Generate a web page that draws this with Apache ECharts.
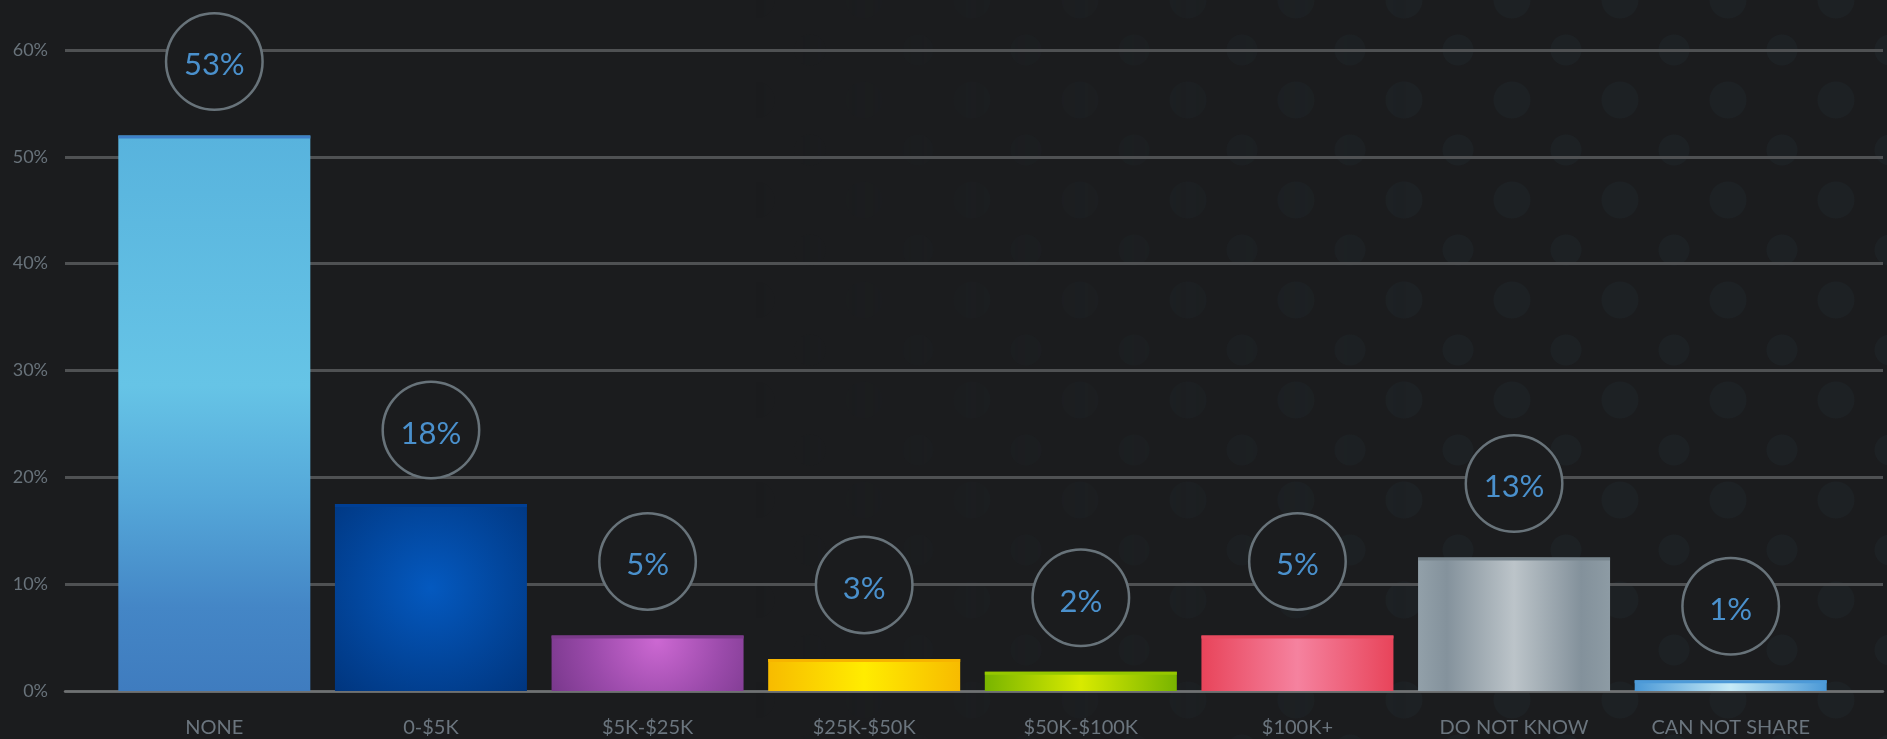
<!DOCTYPE html>
<html>
<head>
<meta charset="utf-8">
<script src="https://cdn.jsdelivr.net/npm/echarts@6/dist/echarts.min.js"></script>
<style>
  html, body { margin: 0; padding: 0; background: #1b1c1e; }
  #wrap { position: relative; width: 1887px; height: 739px; }
  /* faint dotted texture behind the right half */
  #dots {
    position: absolute; inset: 0;
    background-image:
      radial-gradient(circle, #1d2124 15px, transparent 16px),
      radial-gradient(circle, #1d2124 18px, transparent 19px);
    background-size: 108px 100px, 108px 100px;
    background-position: 0 0, 54px 50px;
    -webkit-mask-image: linear-gradient(to right, transparent 40%, #000 75%);
    mask-image: linear-gradient(to right, transparent 40%, #000 75%);
  }
  #chart { position: absolute; inset: 0; }
</style>
</head>
<body>
<div id="wrap">
  <div id="dots"></div>
  <div id="chart"></div>
</div>
<script>
// data
const categories = ['NONE', '0-$5K', '$5K-$25K', '$25K-$50K', '$50K-$100K', '$100K+', 'DO NOT KNOW', 'CAN NOT SHARE'];
const barValues = [52, 17.5, 5.2, 3.0, 1.8, 5.2, 12.5, 1.0];
const bubbleLabels = ['53%', '18%', '5%', '3%', '2%', '5%', '13%', '1%'];
const yTicks = [0, 10, 20, 30, 40, 50, 60];

// look of each bar: fill gradient + darker strip on top
const h = (stops) => ({ type: 'linear', x: 0, y: 0, x2: 1, y2: 0, colorStops: stops.map(c => ({ offset: c[0], color: c[1] })) });
const barFills = [
  { type: 'linear', x: 0, y: 0, x2: 0, y2: 1, colorStops: [
    { offset: 0, color: '#58b3dd' }, { offset: 0.45, color: '#66c4e6' },
    { offset: 0.65, color: '#55a8d9' }, { offset: 0.85, color: '#4486c6' }, { offset: 1, color: '#3f7cbf' }] },
  { type: 'radial', x: 0.5, y: 0.45, r: 0.8, colorStops: [
    { offset: 0, color: '#0459bf' }, { offset: 1, color: '#00337a' }] },
  { type: 'radial', x: 0.55, y: 0.1, r: 2.4, colorStops: [
    { offset: 0, color: '#cc68d2' }, { offset: 0.5, color: '#9a4aaa' }, { offset: 1, color: '#6e3282' }] },
  h([[0, '#f7bb00'], [0.5, '#ffec00'], [1, '#f7bb00']]),
  h([[0, '#78b400'], [0.5, '#d8ea00'], [1, '#78b400']]),
  h([[0, '#e8445a'], [0.5, '#f5829f'], [1, '#e8445a']]),
  h([[0, '#92a0a9'], [0.15, '#84929c'], [0.5, '#bcc4c9'], [0.85, '#83919b'], [1, '#8d9ba4']]),
  h([[0, '#4a98d6'], [0.5, '#c6ebf7'], [1, '#4a98d6']])
];
const capColors = ['#3f80c8', '#003f95', '#7b3a8a', '#f7b500', '#96c800', '#e84a5f', '#78858e', '#4d9ad8'];

const BAR_W = 192;
const BG = '#1b1c1e';
const FONT = 'Lato, "Noto Sans", sans-serif';

const chart = echarts.init(document.getElementById('chart'));

const option = {
  backgroundColor: 'transparent',
  animation: false,
  grid: [
    // grid lines + y labels span the whole width
    { left: 65, right: 4, top: 50, bottom: 48 },
    // bars sit inside a narrower band
    { left: 106, right: 48, top: 50, bottom: 48 }
  ],
  xAxis: [
    {
      gridIndex: 0, type: 'value', min: 0, max: 1, show: true,
      axisLine: { show: true, onZero: false, lineStyle: { color: '#6f7173', width: 2.5 } },
      axisTick: { show: false }, axisLabel: { show: false }, splitLine: { show: false }
    },
    {
      gridIndex: 1, type: 'category', data: categories,
      axisLine: { show: false }, axisTick: { show: false },
      axisLabel: { color: '#6b757e', fontSize: 20, fontFamily: FONT, margin: 27 }
    }
  ],
  yAxis: [
    {
      gridIndex: 0, type: 'value', min: yTicks[0], max: yTicks[yTicks.length - 1], interval: 10,
      axisLine: { show: false }, axisTick: { show: false },
      axisLabel: { color: '#69737b', fontSize: 18, fontFamily: FONT, margin: 17, formatter: '{value}%' },
      splitLine: { show: true, lineStyle: { color: '#4f5153', width: 3 } }
    },
    {
      gridIndex: 1, type: 'value', min: yTicks[0], max: yTicks[yTicks.length - 1], interval: 10,
      show: false, splitLine: { show: false }
    }
  ],
  series: [
    {
      type: 'bar',
      xAxisIndex: 1, yAxisIndex: 1,
      barWidth: BAR_W,
      data: barValues.map((v, i) => ({ value: v, itemStyle: { color: barFills[i] } })),
      label: {
        show: true,
        position: 'top',
        distance: 27,
        formatter: (p) => bubbleLabels[p.dataIndex],
        width: 94, height: 86, lineHeight: 86,
        padding: [8, 0, 0, 0],
        borderRadius: 48,
        borderColor: '#68737a', borderWidth: 2.5,
        backgroundColor: BG,
        align: 'center',
        color: '#4a90cc', fontSize: 31, fontWeight: 'normal', fontFamily: FONT
      },
      z: 2
    },
    {
      // thin darker strip along each bar's top edge
      type: 'custom',
      xAxisIndex: 1, yAxisIndex: 1,
      data: barValues.map((v, i) => [i, v]),
      renderItem: (params, api) => {
        const pt = api.coord([api.value(0), api.value(1)]);
        return {
          type: 'rect',
          shape: { x: pt[0] - BAR_W / 2, y: pt[1], width: BAR_W, height: 3 },
          style: { fill: capColors[params.dataIndex] }
        };
      },
      z: 3
    }
  ]
};

chart.setOption(option);
</script>
</body>
</html>
